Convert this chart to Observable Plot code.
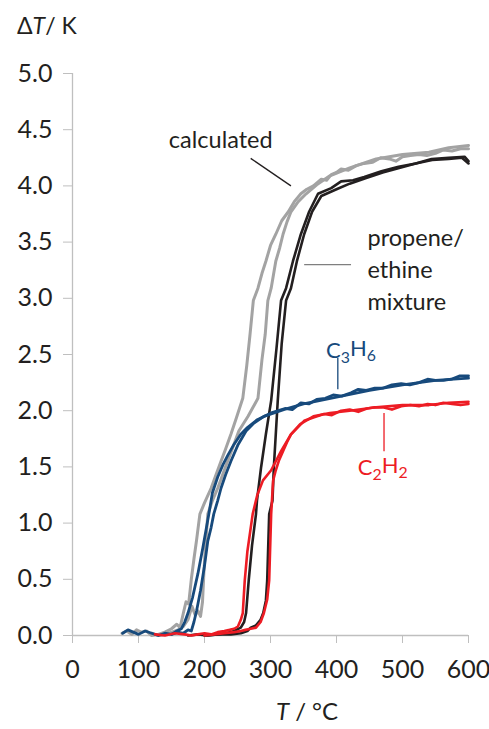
<!DOCTYPE html>
<html><head><meta charset="utf-8">
<script src="https://cdn.jsdelivr.net/npm/d3@7"></script>
<script src="https://cdn.jsdelivr.net/npm/@observablehq/plot@0.6"></script>
<style>body{margin:0;background:#fff} svg{display:block}</style>
</head><body><div id="chart"></div>
<script>
// Tick values
const xTicks = [0, 100, 200, 300, 400, 500, 600];
const yTicks = [0, 0.5, 1, 1.5, 2, 2.5, 3, 3.5, 4, 4.5, 5];

// calculated (two branches)
const calcAT = [75, 82, 90, 97, 104, 112, 120, 130, 140, 150, 158, 163, 168, 172, 176, 180, 184, 188, 193, 200, 210, 218, 225, 232, 240, 248, 258, 264, 269, 274, 281, 287, 293, 300, 308, 317, 327, 336, 346, 355, 365, 377, 385, 392, 400, 407, 418, 430, 442, 455, 467, 480, 490, 500, 512, 525, 537, 550, 562, 575, 588, 600];
const calcAY = [0.02, 0.04, 0.01, 0.05, 0.03, 0.04, 0.0, 0.01, 0.03, 0.06, 0.1, 0.07, 0.2, 0.3, 0.28, 0.5, 0.68, 0.85, 1.08, 1.18, 1.31, 1.44, 1.55, 1.66, 1.79, 1.93, 2.11, 2.4, 2.68, 2.98, 3.09, 3.22, 3.33, 3.47, 3.57, 3.69, 3.77, 3.86, 3.93, 3.97, 4.0, 4.06, 4.05, 4.1, 4.12, 4.15, 4.14, 4.18, 4.2, 4.21, 4.25, 4.24, 4.22, 4.26, 4.27, 4.28, 4.27, 4.29, 4.32, 4.31, 4.33, 4.33];
const calcBT = [120, 130, 140, 150, 160, 168, 175, 181, 186, 190, 194, 197, 199, 201, 205, 212, 220, 228, 235, 244, 252, 266, 281, 287, 292, 296, 301, 308, 314, 319, 325, 331, 342, 354, 370, 390, 420, 460, 500, 540, 570, 600];
const calcBY = [0.02, 0.0, 0.01, 0.03, 0.05, 0.08, 0.14, 0.26, 0.18, 0.22, 0.17, 0.3, 0.55, 0.75, 1.08, 1.2, 1.31, 1.44, 1.55, 1.69, 1.82, 1.95, 2.11, 2.45, 2.68, 2.98, 3.09, 3.33, 3.45, 3.57, 3.68, 3.77, 3.86, 3.93, 4.01, 4.09, 4.16, 4.24, 4.28, 4.3, 4.34, 4.36];

// propene/ethine mixture (two branches)
const mixAT = [175, 190, 205, 220, 232, 240, 248, 255, 260, 263, 267, 272, 278, 279.5, 285.6, 293, 301, 309, 316, 323.6, 334, 346, 358.5, 372, 392, 407, 425, 442, 468, 494, 520, 544, 570, 594, 600];
const mixAY = [0.0, 0.01, 0.0, 0.01, 0.02, 0.03, 0.05, 0.07, 0.12, 0.2, 0.49, 0.8, 1.08, 1.2, 1.49, 1.79, 2.09, 2.55, 2.98, 3.09, 3.33, 3.57, 3.77, 3.93, 3.98, 4.04, 4.05, 4.08, 4.13, 4.17, 4.2, 4.24, 4.25, 4.26, 4.22];
const mixBT = [200, 220, 240, 255, 265, 270, 278, 285, 289, 293, 295, 298, 303, 305, 311, 317, 323.6, 331, 340, 351, 363, 377, 400, 420, 445, 470, 495, 520, 545, 570, 590, 600];
const mixBY = [0.0, 0.01, 0.01, 0.02, 0.04, 0.07, 0.09, 0.14, 0.2, 0.31, 0.49, 1.08, 1.2, 1.49, 2.09, 2.6, 2.98, 3.09, 3.33, 3.57, 3.77, 3.91, 3.97, 4.02, 4.07, 4.12, 4.16, 4.2, 4.23, 4.24, 4.25, 4.2];

// C3H6 (two branches)
const c3AT = [76, 84, 92, 100, 110, 120, 130, 140, 150, 158, 165, 170, 175, 182, 190, 197.5, 206.6, 212, 220, 228, 235, 244.6, 255, 265, 280, 301, 312, 322, 333, 346, 358, 370, 383, 395, 408, 422, 433, 445, 458, 470, 484, 498, 511, 525, 538, 550, 562, 574, 587, 600];
const c3AY = [0.02, 0.05, 0.03, 0.01, 0.04, 0.02, 0.0, 0.02, 0.01, 0.04, 0.06, 0.12, 0.2, 0.34, 0.55, 0.78, 1.08, 1.27, 1.41, 1.52, 1.6, 1.7, 1.79, 1.85, 1.92, 1.98, 2.0, 2.02, 2.01, 2.07, 2.06, 2.1, 2.11, 2.14, 2.13, 2.16, 2.19, 2.18, 2.2, 2.2, 2.23, 2.24, 2.23, 2.25, 2.28, 2.27, 2.27, 2.28, 2.31, 2.31];
const c3BT = [150, 160, 168, 175, 180, 184, 188, 194, 200, 205, 210, 214, 220, 225, 232, 240, 251, 263, 275, 290, 320, 350, 400, 450, 500, 550, 600];
const c3BY = [0.01, 0.03, 0.02, 0.05, 0.04, 0.12, 0.22, 0.4, 0.62, 0.84, 0.96, 1.08, 1.2, 1.31, 1.43, 1.55, 1.7, 1.82, 1.89, 1.95, 2.01, 2.06, 2.12, 2.18, 2.23, 2.27, 2.29];

// C2H2 (two branches)
const c2AT = [125, 140, 155, 170, 180, 190, 200, 210, 220, 230, 238, 245, 250.6, 255, 258, 261, 265, 273, 280, 288.6, 301, 316, 331, 351, 365, 381, 393, 407, 420, 433, 446, 458, 470, 484, 498, 512, 525, 538, 550, 562, 575, 588, 600];
const c2AY = [0.01, 0.0, 0.02, 0.01, 0.0, 0.01, 0.02, 0.01, 0.03, 0.04, 0.05, 0.06, 0.08, 0.14, 0.2, 0.49, 0.75, 1.08, 1.25, 1.38, 1.47, 1.64, 1.79, 1.91, 1.94, 1.97, 1.96, 2.0, 2.01, 1.99, 2.02, 2.03, 2.03, 2.01, 2.04, 2.05, 2.04, 2.06, 2.05, 2.07, 2.06, 2.05, 2.06];
const c2BT = [200, 215, 230, 245, 255, 262, 270, 278, 285, 290, 295, 298, 301, 304, 308, 313, 319, 325, 331, 345, 365, 390, 420, 460, 500, 540, 570, 600];
const c2BY = [0.0, 0.01, 0.02, 0.03, 0.04, 0.05, 0.06, 0.07, 0.12, 0.2, 0.32, 0.49, 1.08, 1.38, 1.47, 1.56, 1.64, 1.72, 1.79, 1.88, 1.95, 1.98, 2.0, 2.03, 2.05, 2.05, 2.07, 2.08];

const seriesColors = {calc: "#a3a3a3", mix: "#231f20", c3: "#174a7c", c2: "#ed1c24"};

function toRows(key, branches) {
  const rows = [];
  branches.forEach(([ts, ys], b) => ts.forEach((t, i) => rows.push({series: key, id: key + b, T: t, dT: ys[i]})));
  return rows;
}
const calcRows = toRows("calc", [[calcAT, calcAY], [calcBT, calcBY]]);
const mixRows = toRows("mix", [[mixAT, mixAY], [mixBT, mixBY]]);
const c3Rows = toRows("c3", [[c3AT, c3AY], [c3BT, c3BY]]);
const c2Rows = toRows("c2", [[c2AT, c2AY], [c2BT, c2BY]]);

// annotation labels and leader lines (data coordinates)
const startLabels = [
  {text: "calculated", T: 146, dT: 4.43, color: "#231f20"},
  {text: "propene/\nethine\nmixture", T: 447, dT: 3.27, color: "#231f20"}
];
const formulaLabels = [
  {text: "C3H6", T: 422, dT: 2.53, color: "#174a7c"},
  {text: "C2H2", T: 470, dT: 1.49, color: "#ed1c24"}
];
const leaders = [
  {T1: 270, y1: 4.245, T2: 331, y2: 4.0, color: "#231f20"},
  {T1: 351, y1: 3.3, T2: 422, y2: 3.3, color: "#7f7f7f"},
  {T1: 402, y1: 2.47, T2: 402, y2: 2.19, color: "#174a7c"},
  {T1: 472, y1: 1.98, T2: 472, y2: 1.64, color: "#ed1c24"}
];

const FONT = "Lato, 'Open Sans', sans-serif";
const axisColor = "#bfbfbf";
const textColor = "#231f20";

const chart = Plot.plot({
  width: 489, height: 729,
  marginLeft: 72, marginRight: 21, marginTop: 73, marginBottom: 94,
  style: {fontFamily: FONT, fontSize: "24px", color: textColor, background: "white"},
  x: {domain: [0, 600]},
  y: {domain: [0, 5]},
  marks: [
    Plot.ruleX([0], {stroke: axisColor, strokeWidth: 1.3}),
    Plot.ruleY([0], {stroke: axisColor, strokeWidth: 1.3}),
    Plot.axisY(yTicks, {tickSize: 9, tickPadding: 11, stroke: axisColor, fill: textColor, fontSize: 25, tickFormat: d3.format(".1f"), label: null}),
    Plot.axisX(xTicks, {tickSize: 8, tickPadding: 17, stroke: axisColor, fill: textColor, fontSize: 25, label: null}),
    Plot.line(calcRows, {x: "T", y: "dT", z: "id", stroke: seriesColors.calc, strokeWidth: 3}),
    Plot.line(mixRows, {x: "T", y: "dT", z: "id", stroke: seriesColors.mix, strokeWidth: 2.6}),
    Plot.line(c3Rows, {x: "T", y: "dT", z: "id", stroke: seriesColors.c3, strokeWidth: 2.8}),
    Plot.line(c2Rows, {x: "T", y: "dT", z: "id", stroke: seriesColors.c2, strokeWidth: 2.6}),
    Plot.link(leaders, {x1: "T1", y1: "y1", x2: "T2", y2: "y2", stroke: "color", strokeWidth: 1.3}),
    Plot.text(startLabels, {x: "T", y: "dT", text: "text", fill: "color", textAnchor: "start", fontSize: 23.5, lineHeight: 1.35}),
    Plot.text(formulaLabels, {x: "T", y: "dT", text: "text", fill: "color", textAnchor: "middle", fontSize: 22})
  ]
});

// subscripts in chemical formulas
d3.select(chart).selectAll("text").each(function() {
  const t = this.textContent;
  const m = /^C(\d)H(\d)$/.exec(t);
  if (!m) return;
  const s = d3.select(this);
  s.text(null);
  s.append("tspan").text("C");
  s.append("tspan").attr("dy", "0.3em").attr("font-size", "0.72em").text(m[1]);
  s.append("tspan").attr("dy", "-0.3em").text("H");
  s.append("tspan").attr("dy", "0.3em").attr("font-size", "0.72em").text(m[2]);
});

// axis titles
const svg = d3.select(chart);
const yl = svg.append("text").attr("x", 17).attr("y", 34).attr("text-anchor", "start").attr("font-size", 23).attr("fill", textColor).attr("font-family", FONT);
yl.append("tspan").text("\u0394");
yl.append("tspan").attr("font-style", "italic").text("T");
yl.append("tspan").text("/ K");
const xl = svg.append("text").attr("x", 307).attr("y", 720).attr("text-anchor", "middle").attr("font-size", 24).attr("fill", textColor).attr("font-family", FONT);
xl.append("tspan").attr("font-style", "italic").text("T");
xl.append("tspan").text(" / \u00b0C");

document.getElementById("chart").appendChild(chart);
</script>
</body></html>
